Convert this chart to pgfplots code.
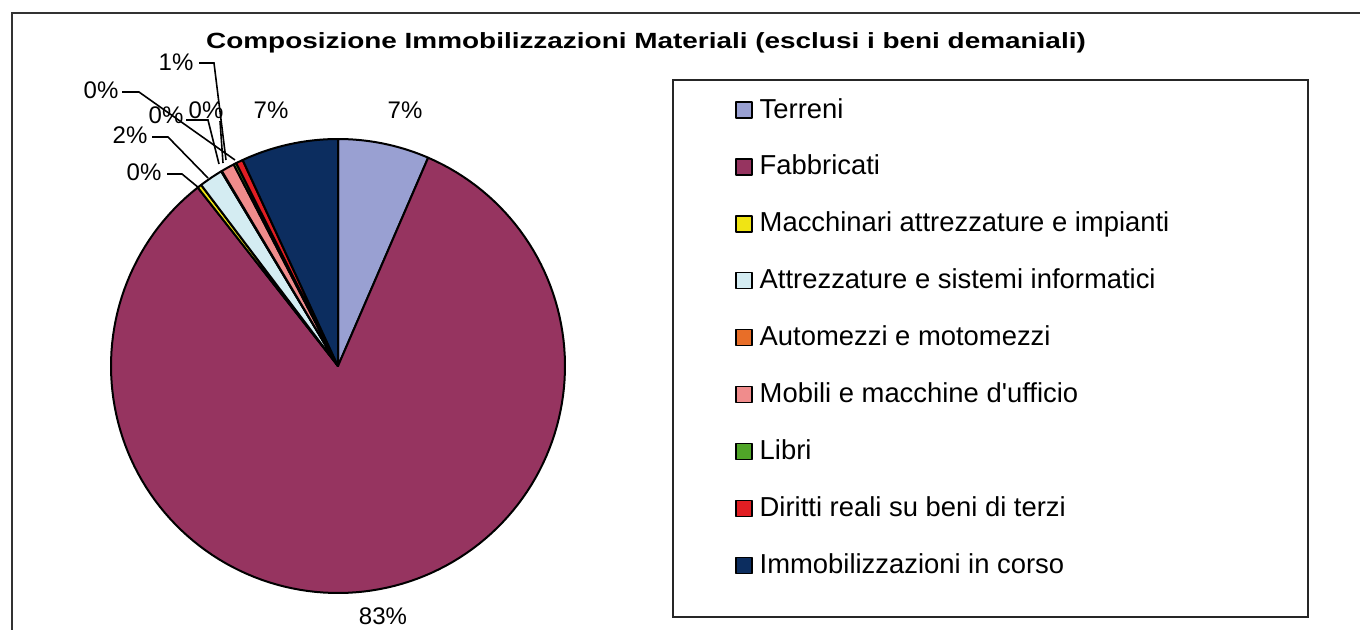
\documentclass[border=0pt]{standalone}
\usepackage{pgfplots}
\pgfplotsset{compat=1.18}
\usepackage{graphicx}
\usepackage{fontspec}
\setmainfont{Liberation Sans}
\definecolor{cTer}{RGB}{153,160,210}
\definecolor{cFab}{RGB}{150,52,96}
\definecolor{cMac}{RGB}{240,228,20}
\definecolor{cAtt}{RGB}{212,236,242}
\definecolor{cAut}{RGB}{232,110,40}
\definecolor{cMob}{RGB}{240,140,140}
\definecolor{cLib}{RGB}{80,165,40}
\definecolor{cDir}{RGB}{225,30,35}
\definecolor{cImm}{RGB}{12,45,95}
\pgfplotsset{square legend/.style={legend image code/.code={\draw[##1, line width=0.7pt] (0pt,-3.5pt) rectangle (8pt,4.5pt);}}}
\def\cum{0}
\newcommand\slice[3]{%
  \pgfmathsetmacro\sA{90-3.6*(\cum+#1)}%
  \pgfmathsetmacro\sB{90-3.6*\cum}%
  \pgfmathsetmacro\newcum{\cum+#1}\global\let\cum\newcum
  \edef\temp{\noexpand\addplot[fill=#2, draw=black, line width=1pt, line join=round, domain=\sA:\sB, samples=150] ({227*cos(x)},{227*sin(x)}) -- (0,0) -- cycle;\noexpand\addlegendentry{\unexpanded{#3}}}%
  \temp}
\begin{document}
\begin{tikzpicture}
\useasboundingbox (0,0) rectangle (680pt,314.5pt);
\fill[white] (0,0) rectangle (680pt,314.5pt);
\begin{axis}[at={(169pt,131.5pt)}, anchor=center, x=0.5pt, y=0.5pt,
  xmin=-227, xmax=227, ymin=-227, ymax=227, hide axis, clip=false,
  legend cell align=left, square legend,
  legend style={draw=none, fill=none, inner sep=0pt, outer sep=0pt,
    at={(1.3751,1.0903)}, anchor=north west, row sep=15.45pt, column sep=3.5pt,
    nodes={inner sep=0pt, text height=10pt, text depth=3pt, font=\fontsize{13.7}{16}\selectfont}}]
\slice{6.5}{cTer}{Terreni}
\slice{82.9}{cFab}{Fabbricati}
\slice{0.3}{cMac}{Macchinari attrezzature e impianti}
\slice{1.7}{cAtt}{Attrezzature e sistemi informatici}
\slice{0.05}{cAut}{Automezzi e motomezzi}
\slice{0.95}{cMob}{Mobili e macchine d\textquotesingle ufficio}
\slice{0.2}{cLib}{Libri}
\slice{0.5}{cDir}{Diritti reali su beni di terzi}
\slice{6.9}{cImm}{Immobilizzazioni in corso}
\end{axis}
\begin{scope}[x=0.5pt,y=-0.5pt,shift={(0,-629)}]
\draw[line width=1.2pt, black!80] (12,640) -- (12,13) -- (1370,13);
\draw[line width=1pt, black!85] (673,80) rectangle (1308,617);
\node[anchor=base, inner sep=0pt] at (646,48) {\scalebox{1.269}[1]{\bfseries\fontsize{11}{13}\selectfont Composizione Immobilizzazioni Materiali (esclusi i beni demaniali)}};
\begin{scope}[every node/.style={anchor=base, inner sep=0pt, font=\fontsize{12}{14}\selectfont}]
\node at (405,118) {7\%};
\node at (383,624) {83\%};
\node at (271,118) {7\%};
\node at (176,70) {1\%};
\node at (101,98) {0\%};
\node at (166,123) {0\%};
\node at (206,118) {0\%};
\node at (130,143) {2\%};
\node at (144,180) {0\%};
\end{scope}
\begin{scope}[line width=0.8pt]
\draw (199,63) -- (214,63) -- (226,160);
\draw (122,92) -- (139,92) -- (235,160);
\draw (152,137) -- (168,137) -- (208,178);
\draw (167,174) -- (182,174) -- (199,188);
\draw (186,120) -- (208,120) -- (219,164);
\draw (220,121) -- (223,163);
\end{scope}
\end{scope}
\end{tikzpicture}
\end{document}
